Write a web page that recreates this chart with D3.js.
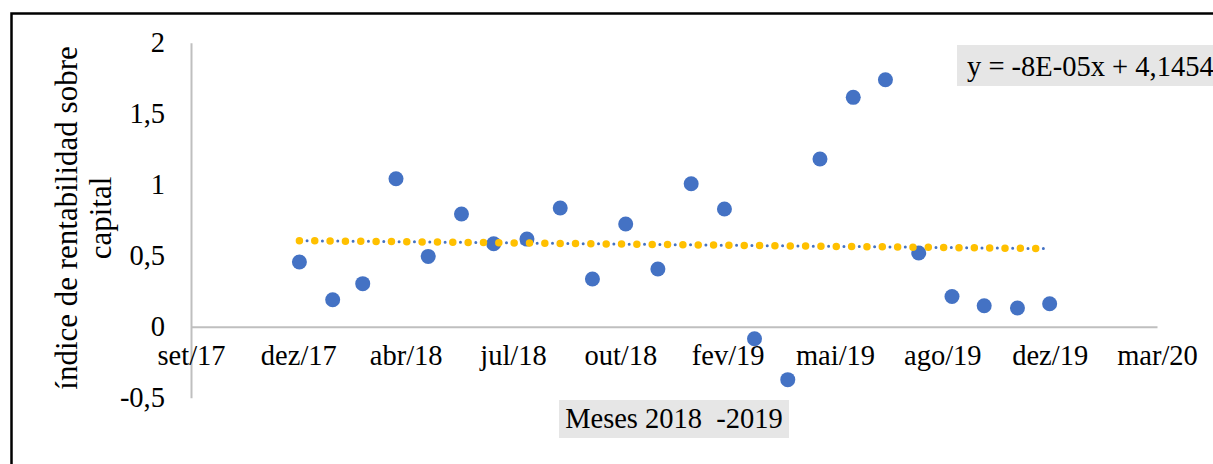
<!DOCTYPE html>
<html>
<head>
<meta charset="utf-8">
<script src="https://cdn.jsdelivr.net/npm/d3@7"></script>
<style>
  html, body { margin: 0; padding: 0; background: #fff; }
  svg { display: block; }
  svg text { font-family: 'Liberation Serif', 'Times New Roman', serif; }
</style>
</head>
<body>
<svg id="chart" width="1213" height="464"></svg>
<script>
// ---- data ----
const months = ["2018-01","2018-02","2018-03","2018-04","2018-05","2018-06",
                "2018-07","2018-08","2018-09","2018-10","2018-11","2018-12",
                "2019-01","2019-02","2019-03","2019-04","2019-05","2019-06",
                "2019-07","2019-08","2019-09","2019-10","2019-11","2019-12"];
const values = [0.456, 0.19, 0.303, 1.042, 0.495, 0.794,
                0.584, 0.617, 0.836, 0.336, 0.723, 0.406,
                1.007, 0.829, -0.085, -0.373, 1.181, 1.615,
                1.739, 0.519, 0.213, 0.148, 0.132, 0.162];
const xTickSerials = [43000, 43100, 43200, 43300, 43400, 43500, 43600, 43700, 43800, 43900];
const xTickLabels = ["set/17","dez/17","abr/18","jul/18","out/18","fev/19","mai/19","ago/19","dez/19","mar/20"];
const yTicks = [-0.5, 0, 0.5, 1, 1.5, 2];
const yTickLabels = ["-0,5","0","0,5","1","1,5","2"];
const yTitleLines = ["índice de rentabilidad sobre", "capital"];
const xTitle = "Meses 2018  -2019";
const equationText = "y = -8E-05x + 4,1454";

// ---- helpers ----
const FONT = "'Liberation Serif', 'Times New Roman', serif";
const excelEpoch = Date.UTC(1899, 11, 30);
function toSerial(ym) {
  const [y, m] = ym.split("-").map(Number);
  return Math.round((Date.UTC(y, m - 1, 1) - excelEpoch) / 86400000);
}
const pts = months.map((m, i) => ({ x: toSerial(m), y: values[i] }));

const svg = d3.select("#chart");
const fontSize = 28.5;

// outer frame
svg.append("rect")
  .attr("x", 11.5).attr("y", 13.5)
  .attr("width", 1400).attr("height", 600)
  .attr("fill", "none").attr("stroke", "#000").attr("stroke-width", 2.5);

const x = d3.scaleLinear().domain([43000, 43900]).range([191, 1157]);
const y = d3.scaleLinear().domain([-0.5, 2]).range([397.7, 42.7]);

// axes (Excel style, gray lines, no tick marks)
const yAxis = d3.axisLeft(y).tickValues(yTicks).tickSize(0).tickPadding(26)
  .tickFormat((d, i) => yTickLabels[i]);
const gy = svg.append("g").attr("transform", `translate(${x(43000)},0)`).call(yAxis)
  .attr("font-family", FONT);
gy.select(".domain").attr("stroke", "#BFBFBF").attr("stroke-width", 2);
gy.selectAll("text").attr("font-size", fontSize).style("font-family", FONT).attr("fill", "#000");

const xAxis = d3.axisBottom(x).tickValues(xTickSerials).tickSize(0).tickPadding(18)
  .tickFormat((d, i) => xTickLabels[i]);
const gx = svg.append("g").attr("transform", `translate(0,${y(0)})`).call(xAxis)
  .attr("font-family", FONT);
gx.select(".domain").attr("stroke", "#BFBFBF").attr("stroke-width", 2);
gx.selectAll("text").attr("font-size", fontSize).style("font-family", FONT).attr("fill", "#000");

// points
svg.append("g").selectAll("circle").data(pts).join("circle")
  .attr("cx", d => x(d.x)).attr("cy", d => y(d.y)).attr("r", 7.5)
  .attr("fill", "#4472C4");

// linear trendline (least squares)
const mx = d3.mean(pts, d => d.x), my = d3.mean(pts, d => d.y);
const slope = d3.sum(pts, d => (d.x - mx) * (d.y - my)) / d3.sum(pts, d => (d.x - mx) ** 2);
const icpt = my - slope * mx;
const x0 = pts[0].x, x1 = pts[pts.length - 1].x;
const trend = [[x0, icpt + slope * x0], [x1, icpt + slope * x1]];
const line = d3.line().x(d => x(d[0])).y(d => y(d[1]));
svg.append("path").attr("d", line(trend))
  .attr("stroke", "#4472C4").attr("stroke-width", 3).attr("fill", "none")
  .attr("stroke-linecap", "round").attr("stroke-dasharray", "0 7.67");
svg.append("path").attr("d", line(trend))
  .attr("stroke", "#FFC000").attr("stroke-width", 7.5).attr("fill", "none")
  .attr("stroke-linecap", "round").attr("stroke-dasharray", "0 15.34");

// equation label
svg.append("rect").attr("x", 957).attr("y", 45).attr("width", 300).attr("height", 41)
  .attr("fill", "#E6E6E6");
svg.append("text").attr("x", 967).attr("y", 76).attr("font-size", fontSize)
  .style("font-family", FONT).attr("fill", "#000")
  .text(equationText);

// x axis title
svg.append("rect").attr("x", 559).attr("y", 400).attr("width", 230).attr("height", 38)
  .attr("fill", "#E6E6E6");
svg.append("text").attr("x", 674).attr("y", 428).attr("text-anchor", "middle")
  .attr("font-size", fontSize).style("font-family", FONT).attr("fill", "#000")
  .style("white-space", "pre")
  .text(xTitle);

// y axis title
yTitleLines.forEach((t, i) => {
  svg.append("text")
    .attr("transform", `translate(${77 + i * 34},218) rotate(-90)`)
    .attr("text-anchor", "middle").attr("font-size", 31)
    .style("font-family", FONT).attr("fill", "#000")
    .text(t);
});
</script>
</body>
</html>
